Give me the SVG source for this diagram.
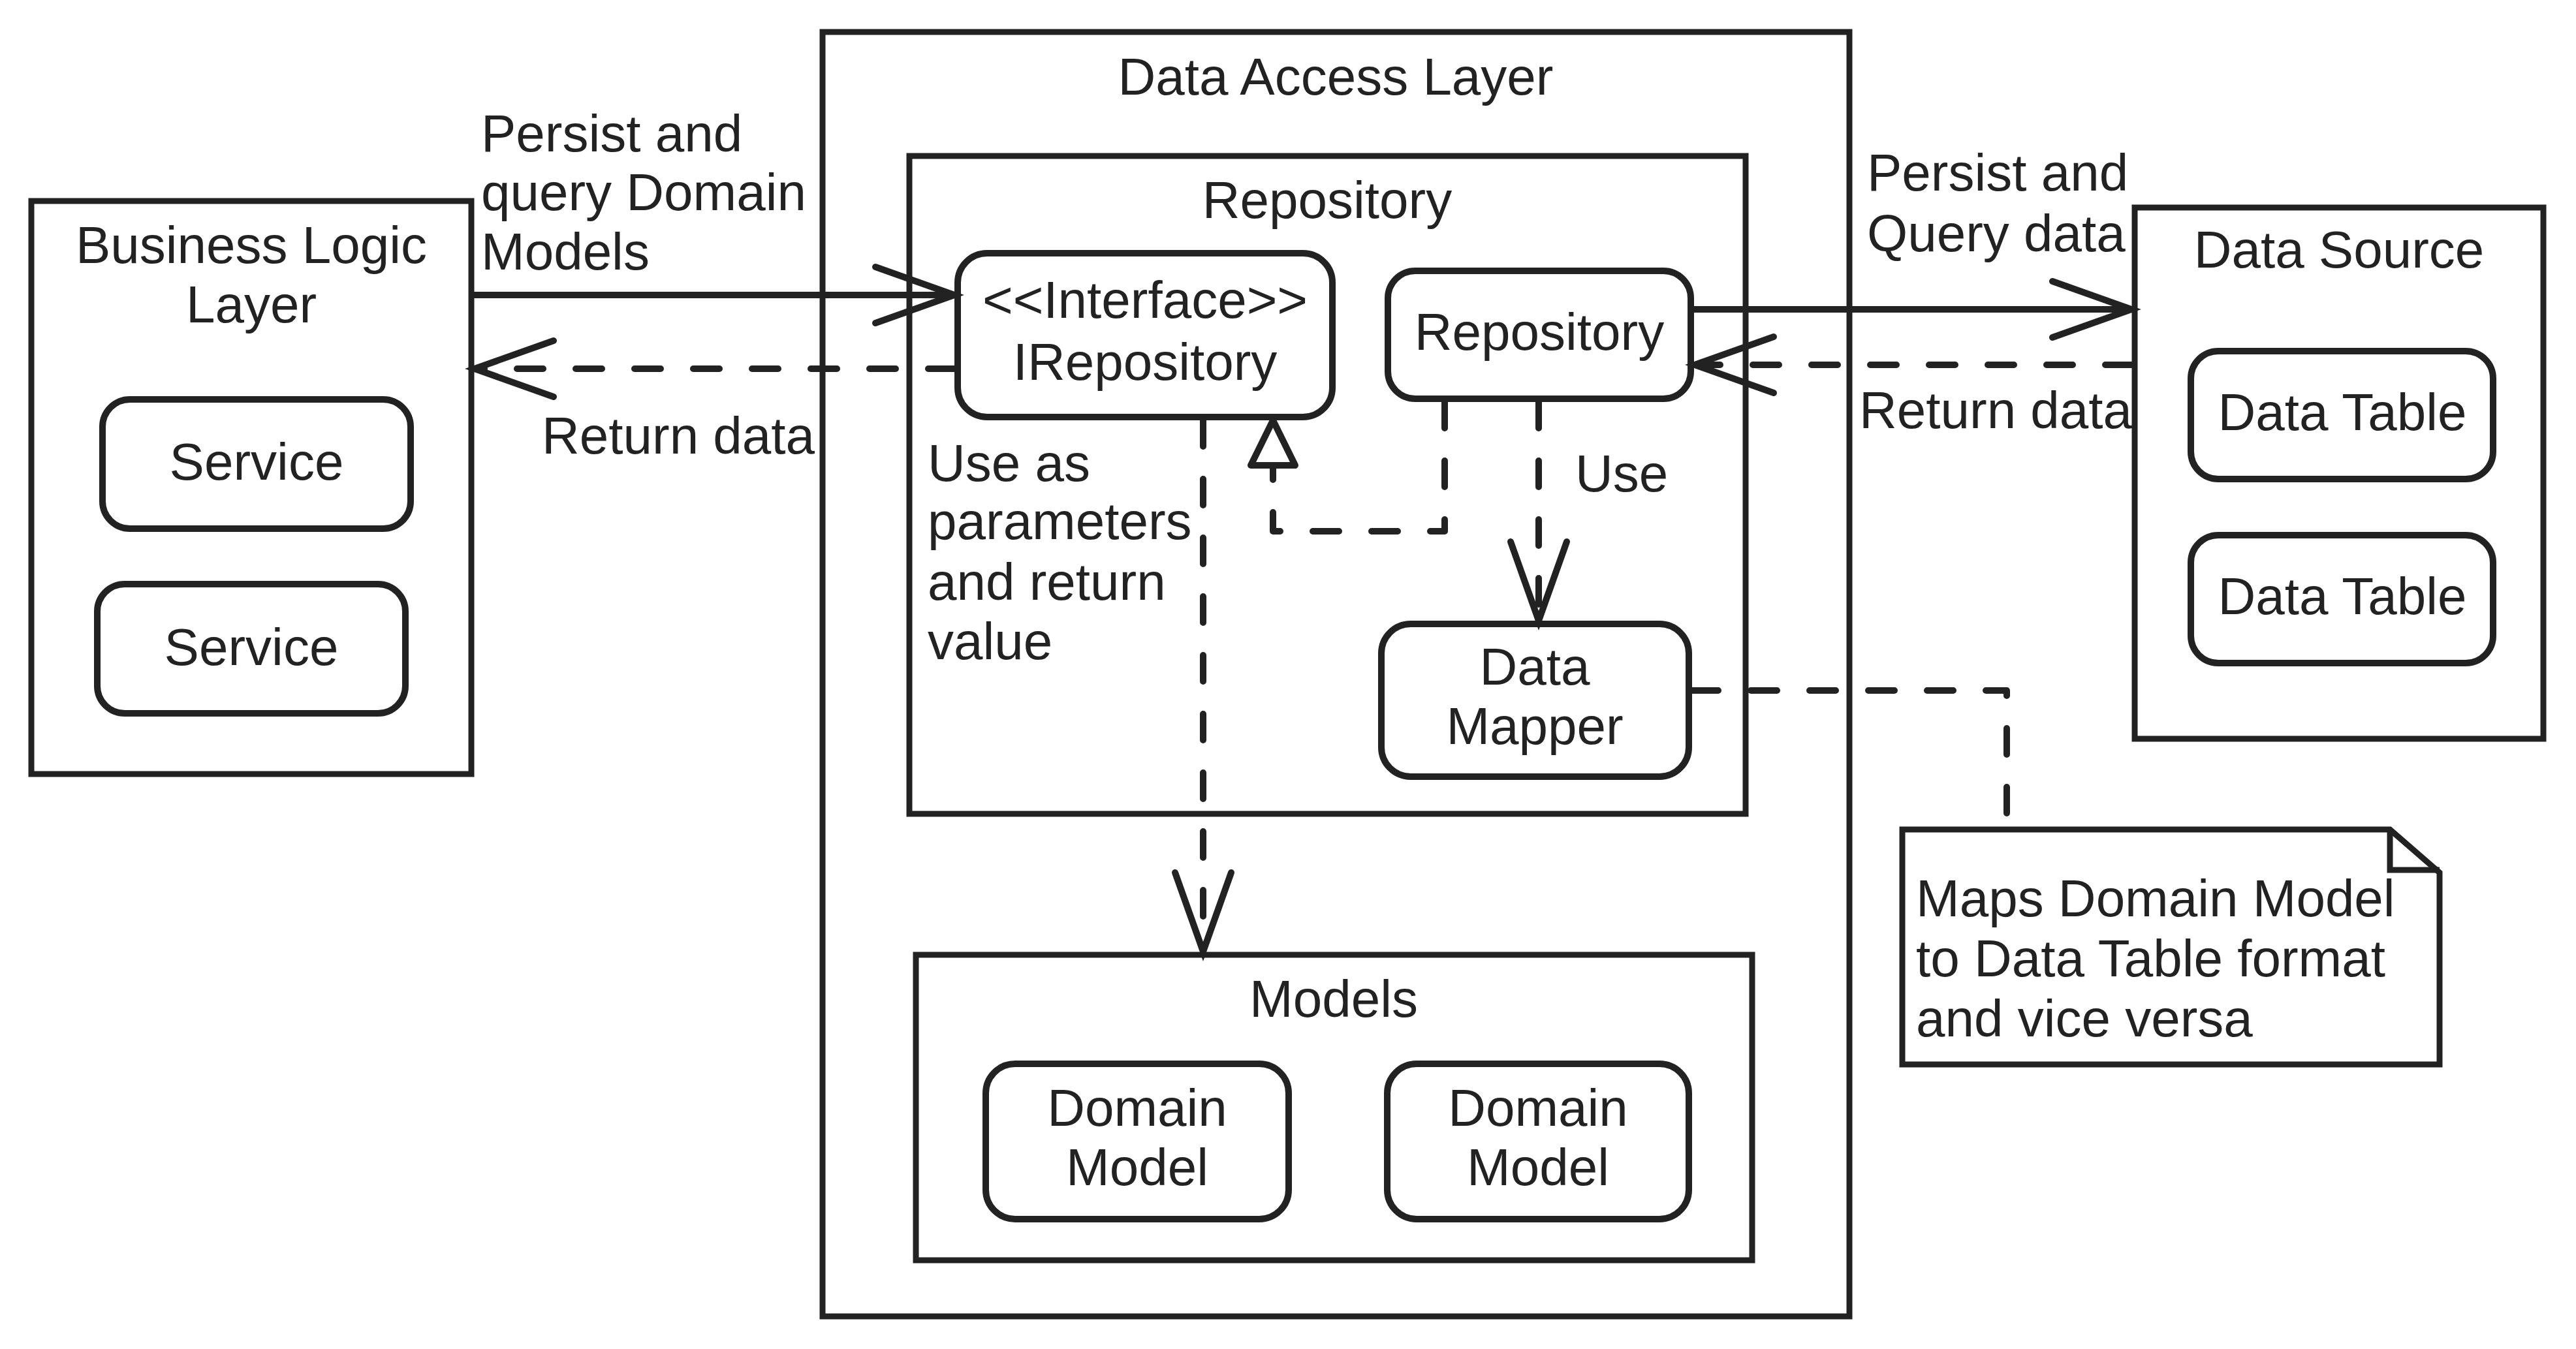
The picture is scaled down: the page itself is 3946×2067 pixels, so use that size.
<svg xmlns="http://www.w3.org/2000/svg" width="3946" height="2067" viewBox="0 0 3946 2067">
<style>
.bg{fill:#ffffff}
.box{fill:#ffffff;stroke:#222;stroke-width:9}
.node{fill:#ffffff;stroke:#222;stroke-width:10}
text{font-family:"Liberation Sans",Arial,sans-serif;font-size:80px;fill:#222}
.c{text-anchor:middle}
.line{fill:none;stroke:#222;stroke-width:10;stroke-linecap:round;stroke-linejoin:round}
.dash{stroke-dasharray:40 50}
</style>
<defs>
<marker id="open" markerUnits="userSpaceOnUse" markerWidth="150" markerHeight="120" viewBox="-130 -60 150 120" refX="0" refY="0" orient="auto" overflow="visible">
<path d="M-121,-43 L0,0 L-121,43" fill="none" stroke="#222" stroke-width="10" stroke-linecap="round" stroke-linejoin="miter" stroke-dasharray="none"/>
</marker>
</defs>
<rect class="bg" x="0" y="0" width="3946" height="2067"/>

<g id="business-logic-layer">
<rect class="box" x="48" y="308" width="674" height="878"/>
<text class="c" x="385" y="403">Business Logic</text>
<text class="c" x="385" y="494">Layer</text>
</g>
<g id="service-1">
<rect class="node" x="157" y="612" width="472" height="198" rx="42"/>
<text class="c" x="393" y="735">Service</text>
</g>
<g id="service-2">
<rect class="node" x="149" y="895" width="472" height="198" rx="42"/>
<text class="c" x="385" y="1019">Service</text>
</g>

<g id="data-access-layer">
<rect class="box" x="1260" y="49" width="1573" height="1968"/>
<text class="c" x="2046" y="145">Data Access Layer</text>
</g>
<g id="repository-container">
<rect class="box" x="1393" y="239" width="1281" height="1008"/>
<text class="c" x="2033" y="334">Repository</text>
</g>
<g id="irepository">
<rect class="node" x="1467" y="388" width="574" height="251" rx="45"/>
<text class="c" x="1754" y="487">&lt;&lt;Interface&gt;&gt;</text>
<text class="c" x="1754" y="582">IRepository</text>
</g>
<g id="repository">
<rect class="node" x="2126" y="415" width="464" height="196" rx="42"/>
<text class="c" x="2358" y="536">Repository</text>
</g>
<g id="data-mapper">
<rect class="node" x="2116" y="956" width="471" height="234" rx="45"/>
<text class="c" x="2351" y="1049">Data</text>
<text class="c" x="2351" y="1140">Mapper</text>
</g>
<g id="models-container">
<rect class="box" x="1403" y="1463" width="1281" height="468"/>
<text class="c" x="2043" y="1558">Models</text>
</g>
<g id="domain-model-1">
<rect class="node" x="1510" y="1630" width="464" height="238" rx="45"/>
<text class="c" x="1742" y="1725">Domain</text>
<text class="c" x="1742" y="1816">Model</text>
</g>
<g id="domain-model-2">
<rect class="node" x="2125" y="1630" width="462" height="238" rx="45"/>
<text class="c" x="2356" y="1725">Domain</text>
<text class="c" x="2356" y="1816">Model</text>
</g>

<g id="data-source">
<rect class="box" x="3270" y="318" width="626" height="814"/>
<text class="c" x="3583" y="410">Data Source</text>
</g>
<g id="data-table-1">
<rect class="node" x="3356" y="538" width="463" height="196" rx="42"/>
<text class="c" x="3588" y="659">Data Table</text>
</g>
<g id="data-table-2">
<rect class="node" x="3356" y="820" width="463" height="196" rx="42"/>
<text class="c" x="3588" y="941">Data Table</text>
</g>

<g id="note">
<path class="box" d="M2914,1271 L3661,1271 L3737,1337 L3737,1631 L2914,1631 Z" stroke-linejoin="miter"/>
<path d="M3661,1271 L3661,1333 L3737,1333" fill="none" stroke="#222" stroke-width="9"/>
<text x="2935" y="1404">Maps Domain Model</text>
<text x="2935" y="1496">to Data Table format</text>
<text x="2935" y="1588">and vice versa</text>
</g>

<g id="connectors">
<path class="line" d="M727,452 L1462,452" marker-end="url(#open)"/>
<path class="line dash" d="M1462,565 L727,565" marker-end="url(#open)"/>
<path class="line" d="M2595,474 L3265,474" marker-end="url(#open)"/>
<path class="line dash" d="M3265,559 L2596,559" marker-end="url(#open)"/>
<path class="line dash" d="M2213,616 L2213,814 L1950,814 L1950,716"/>
<path d="M1950,644 L1984,713 L1916,713 Z" fill="#fff" stroke="#222" stroke-width="10" stroke-linejoin="round"/>
<path class="line dash" d="M2357,616 L2357,951" marker-end="url(#open)"/>
<path class="line dash" d="M1843,644 L1843,1458" marker-end="url(#open)"/>
<path class="line dash" d="M2592,1058 L3074,1058 L3074,1266"/>
</g>

<g id="labels">
<text x="737" y="232">Persist and</text>
<text x="737" y="322">query Domain</text>
<text x="737" y="413">Models</text>
<text x="830" y="695">Return data</text>
<text x="2860" y="292">Persist and</text>
<text x="2860" y="385">Query data</text>
<text x="2848" y="656">Return data</text>
<text x="1421" y="737">Use as</text>
<text x="1421" y="826">parameters</text>
<text x="1421" y="919">and return</text>
<text x="1421" y="1010">value</text>
<text x="2413" y="753">Use</text>
</g>
</svg>
